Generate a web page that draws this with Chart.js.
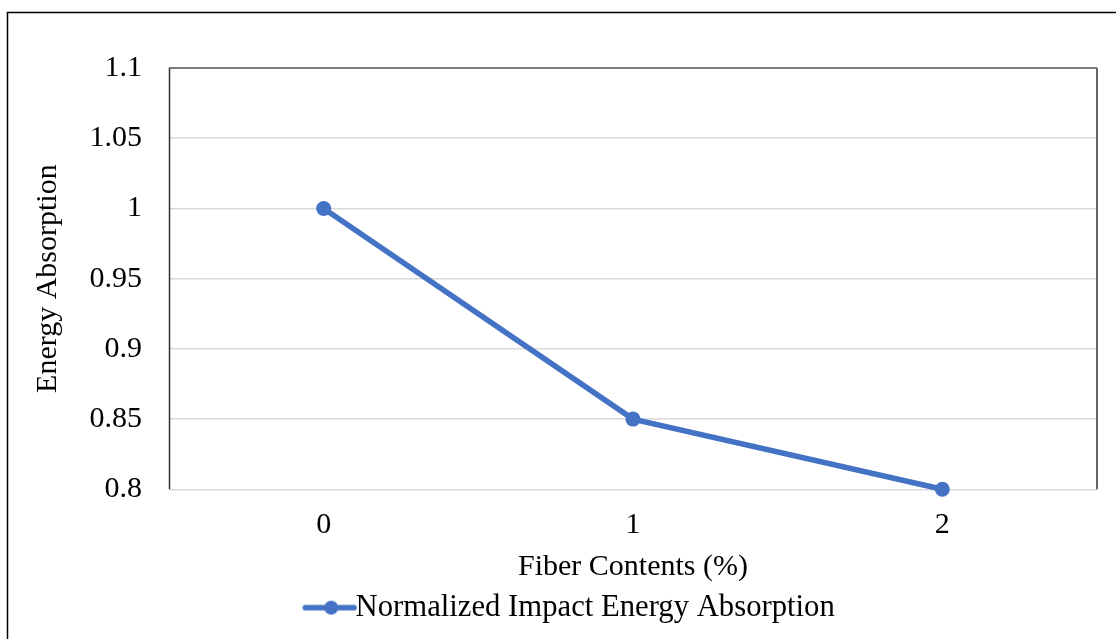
<!DOCTYPE html>
<html>
<head>
<meta charset="utf-8">
<script src="https://cdn.jsdelivr.net/npm/chart.js@4"></script>
<style>
  html, body { margin: 0; padding: 0; background: #fff; }
  canvas { display: block; }
</style>
</head>
<body>
<canvas id="energyChart" width="1116" height="639"></canvas>
<script>
const fiberContents = ['0', '1', '2'];
const normalizedEnergy = [1, 0.85, 0.8];
const yTickLabels = ['0.8', '0.85', '0.9', '0.95', '1', '1.05', '1.1'];
const seriesName = 'Normalized Impact Energy Absorption';

const blue = '#4472C4';
const serif = '"Liberation Serif", "Times New Roman", serif';

// legend marker: line with a dot, like Excel
const marker = document.createElement('canvas');
marker.width = 112;
marker.height = 18;
const mctx = marker.getContext('2d');
mctx.strokeStyle = blue;
mctx.lineWidth = 5.5;
mctx.lineCap = 'round';
mctx.beginPath();
mctx.moveTo(60, 9);
mctx.lineTo(109, 9);
mctx.stroke();
mctx.fillStyle = blue;
mctx.beginPath();
mctx.arc(86, 9, 7, 0, Math.PI * 2);
mctx.fill();

const frames = {
  id: 'frames',
  beforeDraw(chart) {
    const c = chart.ctx;
    c.save();
    c.fillStyle = '#fff';
    c.fillRect(0, 0, chart.width, chart.height);
    c.strokeStyle = '#000';
    c.lineWidth = 1.5;
    c.beginPath();
    c.moveTo(7.5, chart.height);
    c.lineTo(7.5, 12.5);
    c.lineTo(chart.width, 12.5);
    c.stroke();
    c.restore();
  },
  beforeDatasetsDraw(chart) {
    const a = chart.chartArea;
    const c = chart.ctx;
    c.save();
    c.lineWidth = 1.5;
    c.strokeStyle = '#595959';
    c.beginPath();
    c.moveTo(a.left, a.top);
    c.lineTo(a.right, a.top);
    c.stroke();
    c.strokeStyle = '#333';
    c.beginPath();
    c.moveTo(a.left + 0.5, a.top);
    c.lineTo(a.left + 0.5, a.bottom);
    c.stroke();
    c.strokeStyle = '#666';
    c.lineWidth = 2;
    c.beginPath();
    c.moveTo(a.right, a.top);
    c.lineTo(a.right, a.bottom);
    c.stroke();
    c.restore();
  }
};

const ctx = document.getElementById('energyChart').getContext('2d');
const chart = new Chart(ctx, {
  type: 'line',
  data: {
    labels: fiberContents,
    datasets: [{
      label: seriesName,
      data: normalizedEnergy,
      borderColor: blue,
      backgroundColor: blue,
      borderWidth: 5.5,
      pointRadius: 7.5,
      pointBackgroundColor: blue,
      pointBorderWidth: 0,
      tension: 0,
      clip: false
    }]
  },
  options: {
    responsive: false,
    animation: false,
    layout: { padding: { left: 0, right: 19, top: 68, bottom: 6 } },
    plugins: {
      tooltip: { enabled: false },
      legend: {
        position: 'bottom',
        labels: {
          usePointStyle: true,
          pointStyleWidth: 78,
          padding: 10,
          color: '#000',
          font: { family: serif, size: 30.7 },
          generateLabels: (ch) => [{
            text: seriesName,
            pointStyle: marker,
            fillStyle: blue,
            strokeStyle: blue,
            lineWidth: 0,
            datasetIndex: 0
          }]
        }
      }
    },
    scales: {
      x: {
        offset: true,
        afterFit: (s) => { s.height = 93; },
        grid: { display: false, drawTicks: false },
        border: { display: false },
        ticks: { color: '#000', padding: 18, font: { family: serif, size: 30 } },
        title: {
          display: true,
          text: 'Fiber Contents (%)',
          color: '#000',
          padding: { top: 0, bottom: -3 },
          font: { family: serif, size: 30 }
        }
      },
      y: {
        min: 0.8,
        max: 1.1,
        afterFit: (s) => { s.width = 169; },
        grid: { color: '#d9d9d9', lineWidth: 1.5, drawTicks: false },
        border: { display: false },
        ticks: {
          stepSize: 0.05,
          padding: 27,
          color: '#000',
          font: { family: serif, size: 30 },
          callback: (v, i) => yTickLabels[i]
        },
        title: {
          display: true,
          text: 'Energy Absorption',
          color: '#000',
          padding: { top: 30, bottom: 0 },
          font: { family: serif, size: 30 }
        }
      }
    }
  },
  plugins: [frames]
});
</script>
</body>
</html>
